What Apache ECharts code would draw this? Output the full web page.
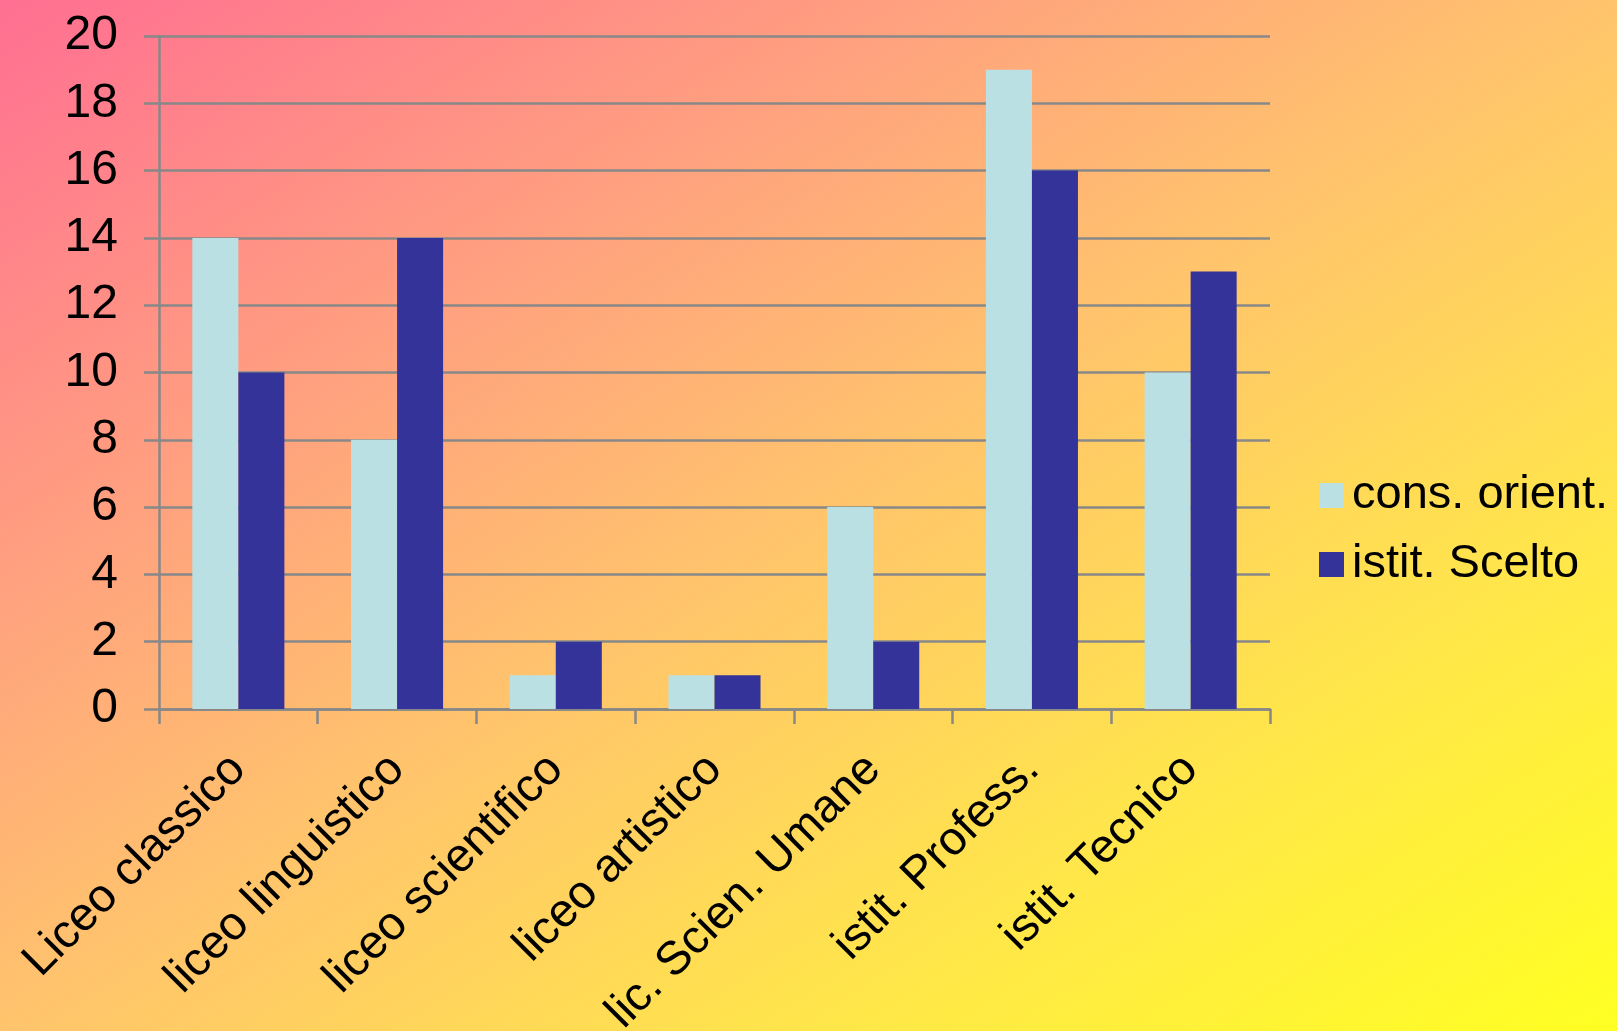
<!DOCTYPE html>
<html>
<head>
<meta charset="utf-8">
<script src="https://cdn.jsdelivr.net/npm/echarts@6/dist/echarts.min.js"></script>
<style>
html,body{margin:0;padding:0;width:100%;height:100%;overflow:hidden;}
#chart{width:1617px;height:1031px;}
</style>
</head>
<body>
<div id="chart"></div>
<script>
const categories = ['Liceo classico', 'liceo linguistico', 'liceo scientifico', 'liceo artistico', 'lic. Scien. Umane', 'istit. Profess.', 'istit. Tecnico'];
const seriesNames = ['cons. orient.', 'istit. Scelto'];
const consOrient = [14, 8, 1, 1, 6, 19, 10];
const istitScelto = [10, 14, 2, 1, 2, 16, 13];

const W = 1617, H = 1031;
const s = 2 * W * H / (W * W + H * H);
const chart = echarts.init(document.getElementById('chart'), null, {renderer: 'canvas'});
const font = 'Liberation Sans, Arial, sans-serif';
const gridColor = '#888888';

chart.setOption({
  animation: false,
  backgroundColor: {
    type: 'linear', global: true,
    x: 0, y: 0, x2: H * s, y2: W * s,
    colorStops: [
      {offset: 0, color: '#FF6F92'},
      {offset: 0.3, color: '#FFA37E'},
      {offset: 0.5, color: '#FFC46C'},
      {offset: 0.75, color: '#FFE64A'},
      {offset: 1, color: '#FFFF22'}
    ]
  },
  textStyle: {fontFamily: font, color: '#000'},
  grid: {left: 159, right: 347, top: 36, bottom: 322, containLabel: false, outerBoundsMode: 'none'},
  legend: {
    orient: 'vertical',
    left: 1314, top: 467,
    itemWidth: 25, itemHeight: 25, itemGap: 22,
    icon: 'rect',
    data: seriesNames,
    textStyle: {fontFamily: font, fontSize: 47, color: '#000', lineHeight: 47, padding: [0, 0, 0, 3]}
  },
  xAxis: {
    type: 'category',
    data: categories,
    boundaryGap: true,
    axisLine: {show: true, lineStyle: {color: gridColor, width: 2.5}},
    axisTick: {show: true, length: 15, alignWithLabel: false, lineStyle: {color: gridColor, width: 2.5}},
    axisLabel: {rotate: 45, interval: 0, margin: 53, fontFamily: font, fontSize: 47, color: '#000'},
    splitLine: {show: false}
  },
  yAxis: {
    type: 'value',
    min: 0, max: 20, interval: 2,
    axisLine: {show: true, lineStyle: {color: gridColor, width: 2.5}},
    axisTick: {show: true, length: 15, lineStyle: {color: gridColor, width: 2.5}},
    axisLabel: {margin: 41, fontFamily: font, fontSize: 48, color: '#000'},
    splitLine: {show: true, lineStyle: {color: gridColor, width: 2.5}}
  },
  series: [
    {name: seriesNames[0], type: 'bar', data: consOrient, barGap: '0%', barCategoryGap: '42%', itemStyle: {color: '#BBE0E3'}},
    {name: seriesNames[1], type: 'bar', data: istitScelto, barGap: '0%', barCategoryGap: '42%', itemStyle: {color: '#333399'}}
  ]
});
</script>
</body>
</html>
